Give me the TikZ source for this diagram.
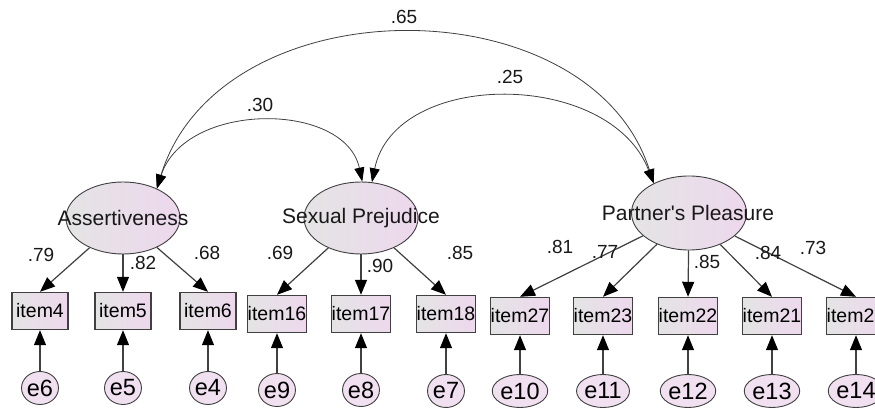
\documentclass[tikz,border=0pt]{standalone}
\usepackage{fontspec}
\setmainfont{Liberation Sans}
\usetikzlibrary{shapes.geometric,arrows.meta}
\definecolor{lineg}{HTML}{404040}
\definecolor{fillL}{HTML}{E4E4E4}
\definecolor{fillR}{HTML}{EDD8ED}
\definecolor{errf}{HTML}{F0E0F0}
\tikzset{
  latent/.style={ellipse, draw=lineg, line width=0.9pt, left color=fillL, right color=fillR, minimum width=114pt, minimum height=72pt, inner sep=0pt},
  obsbox/.style={rectangle, draw=lineg, line width=1.4pt, left color=fillL, right color=fillR, minimum width=56pt, minimum height=37pt, inner sep=0pt, font=\fontsize{19.5}{20}\selectfont},
  errc/.style={ellipse, draw=lineg, line width=0.9pt, fill=errf, minimum width=36pt, minimum height=33pt, inner sep=0pt, font=\fontsize{23.5}{24}\selectfont},
  lbl/.style={font=\fontsize{19}{20}\selectfont, text=black!90, inner sep=0pt},
  latlbl/.style={font=\fontsize{21}{21}\selectfont, text=black!90, inner sep=0pt},
  load/.style={draw=lineg, line width=1.2pt, -{Triangle[length=15pt,width=12pt,color=black]}},
  cov/.style={draw=black!75, line width=0.8pt, {Triangle[length=14pt,width=10pt,color=black]}-{Triangle[length=14pt,width=10pt,color=black]}}
}
\begin{document}
\begin{tikzpicture}[x=1pt,y=-1pt]
\useasboundingbox (0,0) rectangle (875,411);
\clip (0,0) rectangle (875,411);
\fill[white] (0,0) rectangle (875,411);

% latent variables
\node[latent] (A) at (123,218) {};
\node[latent] (S) at (361,218) {};
\node[latent, minimum width=115pt, minimum height=74pt] (P) at (689,213) {};
\node[latlbl] (At) at (123,218) {Assertiveness};
\node[latlbl] (St) at (361,218) {Sexual Prejudice};
\node[latlbl] (Pt) at (688,213) {Partner\textquotesingle s Pleasure};

% observed variables
\node[obsbox] (i4) at (40,311) {item4};
\node[obsbox] (i5) at (123,311) {item5};
\node[obsbox] (i6) at (208,311) {item6};
\node[obsbox] (i16) at (277,314) {item16};
\node[obsbox] (i17) at (361,314) {item17};
\node[obsbox] (i18) at (446,314) {item18};
\node[obsbox] (i27) at (520,316) {item27};
\node[obsbox] (i23) at (603,316) {item23};
\node[obsbox] (i22) at (688,316) {item22};
\node[obsbox] (i21) at (772,316) {item21};
\node[obsbox] (i20) at (856,316) {item20};

% errors
\node[errc] (e6) at (40,388) {e6};
\node[errc] (e5) at (123,388) {e5};
\node[errc] (e4) at (208,388) {e4};
\node[errc] (e9) at (277,390) {e9};
\node[errc] (e8) at (361,390) {e8};
\node[errc] (e7) at (446,391) {e7};
\node[errc] (e10) at (520,391) {e10};
\node[errc] (e11) at (603,391) {e11};
\node[errc] (e12) at (688,391) {e12};
\node[errc] (e13) at (772,391) {e13};
\node[errc] (e14) at (856,391) {e14};

% loadings
\foreach \l/\o in {A/i4,A/i5,A/i6,S/i16,S/i17,S/i18,P/i27,P/i23,P/i22,P/i21,P/i20}
  \draw[load] (\l) -- (\o.north);
% error arrows
\foreach \e/\o in {e6/i4,e5/i5,e4/i6,e9/i16,e8/i17,e7/i18,e10/i27,e11/i23,e12/i22,e13/i21,e14/i20}
  \draw[load] (\e.north) -- (\o.south);

% loading labels
\node[lbl] (l1) at (41,255) {.79};
\node[lbl] (l2) at (143,263) {.82};
\node[lbl] (l3) at (207,253) {.68};
\node[lbl] (l4) at (280,253) {.69};
\node[lbl] (l5) at (380,266) {.90};
\node[lbl] (l6) at (460,253) {.85};
\node[lbl] (l7) at (560,247) {.81};
\node[lbl] (l8) at (605,252) {.77};
\node[lbl] (l9) at (707,262) {.85};
\node[lbl] (l10) at (768,253) {.84};
\node[lbl] (l11) at (813,248) {.73};

% covariances
\draw[cov] (A.41) .. controls (220,-17) and (590,-17) .. (P.140);
\draw[cov] (A.41) .. controls (185,101) and (345,101) .. (S.88);
\draw[cov] (S.73) .. controls (395,69) and (610,69) .. (P.140);
\node[lbl] (c1) at (404,17) {.65};
\node[lbl] (c2) at (260,105) {.30};
\node[lbl] (c3) at (510,77) {.25};
\end{tikzpicture}
\end{document}
